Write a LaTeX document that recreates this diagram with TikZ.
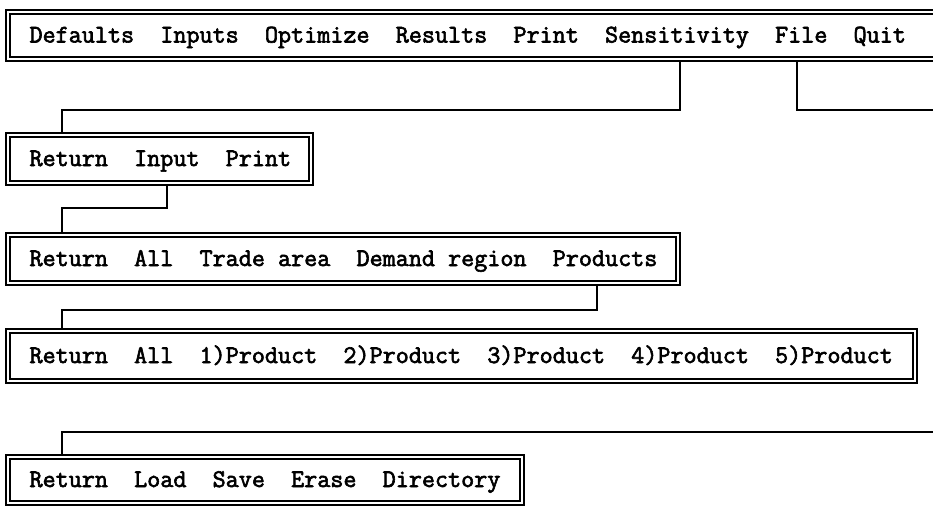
\documentclass[tikz,border=0pt]{standalone}
\usepackage{fontspec}
\newfontfamily\menumono[FakeBold=2.4]{Latin Modern Mono}
\begin{document}
\begin{tikzpicture}[x=1pt,y=-1pt,
  menubox/.style={draw, double, line width=1.4pt, double distance=2.6pt,
    outer sep=2.7pt, inner xsep=21.5pt, inner ysep=0pt,
    text height=14pt, text depth=0pt,
    font=\menumono\fontsize{25.4}{27}\selectfont},
  conn/.style={line width=1.6pt, line join=miter}]
\useasboundingbox (0,0) rectangle (933,506);
\node[menubox, minimum width=942pt, minimum height=47pt] (m1) at (479,35.5)
  {\makebox[899pt][l]{Defaults~~Inputs~~Optimize~~Results~~Print~~Sensitivity~~File~~Quit}};
\node[menubox, minimum width=303pt, minimum height=48pt] (m2) at (159.5,159)
  {\makebox[260pt][l]{Return~~Input~~Print}};
\node[menubox, minimum width=670pt, minimum height=48pt] (m3) at (343,259)
  {\makebox[627pt][l]{Return~~All~~Trade~area~~Demand~region~~Products}};
\node[menubox, minimum width=907pt, minimum height=50pt] (m4) at (461.5,356)
  {\makebox[864pt][l]{Return~~All~~1)Product~~2)Product~~3)Product~~4)Product~~5)Product}};
\node[menubox, minimum width=514pt, minimum height=46pt] (m5) at (265,480)
  {\makebox[471pt][l]{Return~~Load~~Save~~Erase~~Directory}};
\coordinate (spine) at (62,0);
\coordinate (s1) at (680,110);
\coordinate (f1) at (797,110);
\coordinate (fileout) at (940,110);
\coordinate (i1) at (167,208);
\coordinate (p1) at (597,310);
\coordinate (fileback) at (940,432);
\draw[conn] (m1.south -| s1) -- (s1) -| (m2.north -| spine);
\draw[conn] (m1.south -| f1) -- (f1) -- (fileout);
\draw[conn] (m2.south -| i1) -- (i1) -| (m3.north -| spine);
\draw[conn] (m3.south -| p1) -- (p1) -| (m4.north -| spine);
\draw[conn] (fileback) -| (m5.north -| spine);
\end{tikzpicture}
\end{document}
